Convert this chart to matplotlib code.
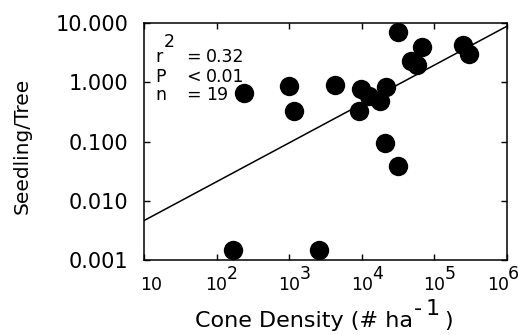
import matplotlib
matplotlib.use("Agg")
import matplotlib.pyplot as plt
import matplotlib.transforms as mtransforms
import numpy as np
from matplotlib.ticker import FixedLocator, FixedFormatter, NullLocator, NullFormatter

plt.rcParams['font.family'] = ['DejaVu Sans']

cone_density = [170, 2600, 238, 1000, 1165, 4240, 9250, 9660, 12700, 17800,
                21400, 21000, 31800, 31800, 47100, 58200, 66800, 250000, 302000]
seedling_per_tree = [0.00145, 0.00145, 0.66, 0.88, 0.334, 0.92, 0.334, 0.785, 0.60, 0.49,
                     0.83, 0.094, 0.039, 7.2, 2.33, 1.95, 3.94, 4.25, 3.03]

fit_intercept_log = -2.991   # log10(y) at log10(x)=0
fit_slope = 0.657
fit_x_range = [10, 1e6]

x_ticks = [10, 100, 1000, 1e4, 1e5, 1e6]
x_tick_base = ['10', '10', '10', '10', '10', '10']
x_tick_exp = ['', '2', '3', '4', '5', '6']
y_ticks = [0.001, 0.01, 0.1, 1, 10]
y_tick_labels = ['0.001', '0.010', '0.100', '1.000', '10.000']

W, H = 524, 335
fig = plt.figure(figsize=(W/100, H/100), dpi=100)
ax = fig.add_axes([144/W, 1-260/H, (507-144)/W, (260-23.3)/H])
ax.set_xscale('log')
ax.set_yscale('log')
ax.set_xlim(10, 1e6)
ax.set_ylim(0.001, 10)

ax.scatter(cone_density, seedling_per_tree, s=195, color='black', zorder=3, linewidths=0)
fx = np.array(fit_x_range)
fy = 10 ** (fit_intercept_log + fit_slope * np.log10(fx))
ax.plot(fx, fy, color='black', lw=1.1)

ax.xaxis.set_major_locator(FixedLocator(x_ticks))
ax.xaxis.set_major_formatter(NullFormatter())
ax.yaxis.set_major_locator(FixedLocator(y_ticks))
ax.yaxis.set_major_formatter(FixedFormatter(y_tick_labels))
ax.xaxis.set_minor_locator(NullLocator())
ax.yaxis.set_minor_locator(NullLocator())
ax.xaxis.set_minor_formatter(NullFormatter())
ax.yaxis.set_minor_formatter(NullFormatter())
ax.tick_params(direction='in', length=4.5, width=1, top=True, right=True)
ax.tick_params(axis='y', labelsize=15, pad=11)
for s in ax.spines.values():
    s.set_linewidth(1.1)

# x tick labels: "10" with full-size raised exponent
blend = mtransforms.blended_transform_factory(ax.transData, ax.transAxes)
x_shift_px = [7, 0, 0, 0, 0, -9]
for xv, base, ex, sh in zip(x_ticks, x_tick_base, x_tick_exp, x_shift_px):
    tb = mtransforms.offset_copy(blend, fig=fig, x=sh, y=-30, units='dots')
    ax.text(xv, 0, base, transform=tb, ha='center', va='baseline', fontsize=12.5)
    if ex:
        te = mtransforms.offset_copy(blend, fig=fig, x=sh + 10, y=-19, units='dots')
        ax.text(xv, 0, ex, transform=te, ha='left', va='baseline', fontsize=12.5)

# axis labels
fig.text(22/W, 1-146/H, 'Seedling/Tree', rotation=90, ha='center', va='center', fontsize=14.5)
fig.text(195/W, 1-327/H, 'Cone Density (# ha', ha='left', va='baseline', fontsize=16)
fig.text(414/W, 1-315/H, '-', ha='left', va='baseline', fontsize=16)
fig.text(426/W, 1-315/H, '1', ha='left', va='baseline', fontsize=16)
fig.text(444/W, 1-327/H, ')', ha='left', va='baseline', fontsize=16)

# statistics annotation
def axfrac(px, py):
    return (px-144)/(507-144), (260-py)/(260-23.3)
stats_rows = [('r', '=', '0.32'), ('P', '<', '0.01'), ('n', '=', '19')]
baselines = [62, 82, 100]
for (a, b, c), by in zip(stats_rows, baselines):
    for txt, px in ((a, 155), (b, 186), (c, 206)):
        xf, yf = axfrac(px, by)
        ax.text(xf, yf, txt, transform=ax.transAxes, ha='left', va='baseline', fontsize=12.5)
xf, yf = axfrac(164, 47)
ax.text(xf, yf, '2', transform=ax.transAxes, ha='left', va='baseline', fontsize=12.5)

fig.savefig('out.png', dpi=100)
